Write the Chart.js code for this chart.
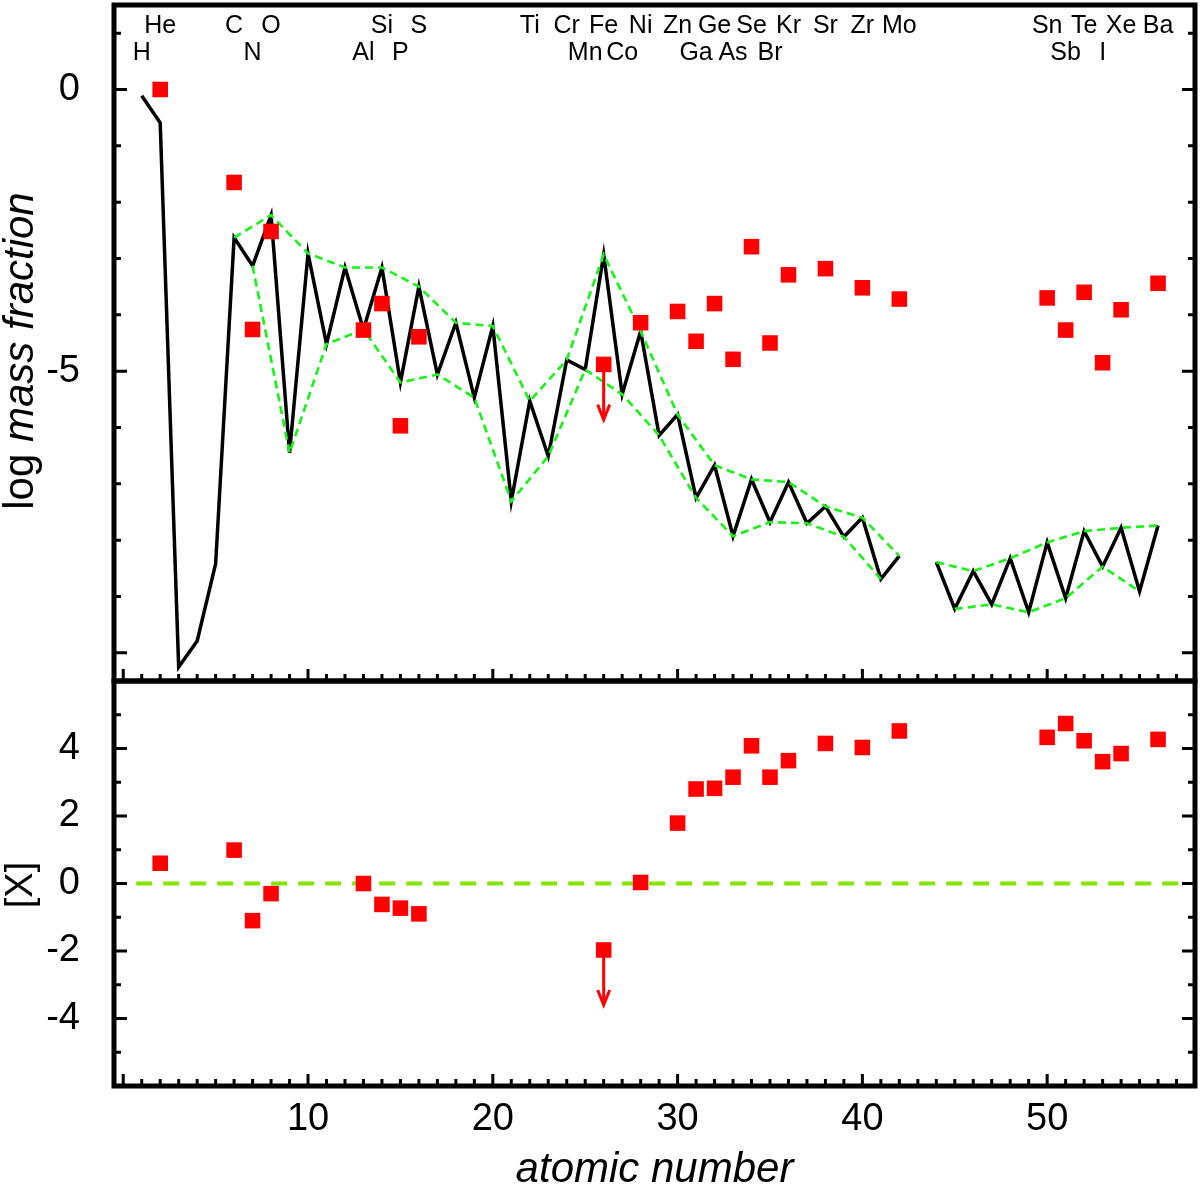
<!DOCTYPE html>
<html>
<head>
<meta charset="utf-8">
<title>Abundance pattern</title>
<script src="https://cdn.jsdelivr.net/npm/chart.js@4.4.1/dist/chart.umd.min.js"></script>
<style>
  html, body { margin: 0; padding: 0; background: #fff; }
  #wrap { position: relative; width: 1200px; height: 1190px; overflow: hidden; background: #fff; }
  canvas { position: absolute; left: 0; }
  #top { top: 0; }
  #bottom { top: 678px; }
</style>
</head>
<body>
<div id="wrap">
  <canvas id="top" width="1200" height="684"></canvas>
  <canvas id="bottom" width="1200" height="512"></canvas>
</div>
<script>
// model curve, log mass fraction (no value for Tc, Z=43)
const modelZ = [1, 2, 3, 4, 5, 6, 7, 8, 9, 10, 11, 12, 13, 14, 15, 16, 17, 18, 19, 20,
  21, 22, 23, 24, 25, 26, 27, 28, 29, 30, 31, 32, 33, 34, 35, 36, 37, 38, 39, 40,
  41, 42, 43, 44, 45, 46, 47, 48, 49, 50, 51, 52, 53, 54, 55, 56];
const modelLog = [-0.11, -0.59, -10.25, -9.79, -8.42, -2.63, -3.13, -2.23, -6.45, -2.91,
  -4.52, -3.16, -4.26, -3.16, -5.2, -3.5, -5.06, -4.14, -5.47, -4.2,
  -7.31, -5.53, -6.51, -4.8, -4.97, -2.93, -5.41, -4.29, -6.14, -5.77,
  -7.25, -6.67, -7.93, -6.92, -7.68, -6.97, -7.7, -7.4, -7.94, -7.6,
  -8.69, -8.28, null, -8.39, -9.22, -8.55, -9.14, -8.32, -9.28, -8.04,
  -9.03, -7.84, -8.47, -7.78, -8.91, -7.74];

// observed abundances
const obsZ = [2, 6, 7, 8, 13, 14, 15, 16, 26, 28, 30, 31, 32, 33, 34, 35, 36, 38, 40, 42,
  50, 51, 52, 53, 54, 56];
const obsLog = [0.0, -1.65, -4.26, -2.52, -4.27, -3.8, -5.97, -4.39, -4.88, -4.14,
  -3.94, -4.47, -3.8, -4.79, -2.79, -4.5, -3.29, -3.18, -3.52, -3.72,
  -3.7, -4.27, -3.6, -4.85, -3.91, -3.44];
const obsRel = [0.6, 0.99, -1.1, -0.3, 0.0, -0.62, -0.73, -0.9, -1.97, 0.03,
  1.79, 2.8, 2.82, 3.15, 4.08, 3.15, 3.64, 4.15, 4.03, 4.52,
  4.33, 4.74, 4.23, 3.61, 3.85, 4.27];

// upper limits: arrow tips
const limitZ = [26];
const limitLogTip = [-5.86];
const limitRelTip = [-3.6];

// element symbols along the top
const elemZ = [1, 2, 6, 7, 8, 13, 14, 15, 16, 22, 24, 25, 26, 27, 28, 30, 31, 32, 33, 34,
  35, 36, 38, 40, 42, 50, 51, 52, 53, 54, 56];
const elemSym = ['H', 'He', 'C', 'N', 'O', 'Al', 'Si', 'P', 'S', 'Ti', 'Cr', 'Mn', 'Fe', 'Co', 'Ni', 'Zn', 'Ga', 'Ge', 'As', 'Se',
  'Br', 'Kr', 'Sr', 'Zr', 'Mo', 'Sn', 'Sb', 'Te', 'I', 'Xe', 'Ba'];

// solar reference line in the lower panel
const zeroZ = [0.7, 57.6];
const zeroVal = [0, 0];

const FONT = "'Liberation Sans', Arial, Helvetica, sans-serif";
const GREEN = '#1ef01e';
const RED = '#ff0000';

Chart.defaults.font.family = FONT;
Chart.defaults.color = '#000';

function pts(xs, ys) {
    return xs.map((x, i) => ({ x, y: ys[i] }));
}

// every second model point (same parity), broken at the Tc gap
function envelope(parity, fromZ) {
    const out = [];
    modelZ.forEach((z, i) => {
        if (modelLog[i] === null) out.push({ x: z, y: null });
        else if (z >= fromZ && z % 2 === parity) out.push({ x: z, y: modelLog[i] });
    });
    return out;
}

// box round the plot area with inward ticks
const frameTicks = {
    id: 'frameTicks',
    afterDraw(chart, args, o) {
        const { ctx, chartArea: a, scales: { x, y } } = chart;
        ctx.save();
        ctx.strokeStyle = '#000';
        ctx.lineWidth = 3;
        ctx.beginPath();
        for (let v = o.yFrom; v <= o.yTo; v++) {
            const py = y.getPixelForValue(v);
            const len = v % o.yMajor === 0 ? 13 : 7;
            ctx.moveTo(a.left, py); ctx.lineTo(a.left + len, py);
            ctx.moveTo(a.right, py); ctx.lineTo(a.right - len, py);
        }
        for (let v = 0; v <= 57; v++) {
            const px = x.getPixelForValue(v);
            const len = v % 10 === 0 ? 12 : 7;
            ctx.moveTo(px, a.bottom); ctx.lineTo(px, a.bottom - len);
        }
        ctx.stroke();
        ctx.lineWidth = 5;
        ctx.strokeRect(a.left, a.top, a.right - a.left, a.bottom - a.top);
        ctx.restore();
    }
};

// rotated y title, parts may be italic
const sideTitle = {
    id: 'sideTitle',
    afterDraw(chart, args, o) {
        const ctx = chart.ctx;
        ctx.save();
        ctx.translate(o.x, o.y);
        ctx.rotate(-Math.PI / 2);
        ctx.fillStyle = '#000';
        ctx.textBaseline = 'alphabetic';
        ctx.textAlign = 'left';
        const fonts = o.parts.map(p => (p.italic ? 'italic ' : '') + o.size + 'px ' + FONT);
        let total = 0;
        const widths = o.parts.map((p, i) => {
            ctx.font = fonts[i];
            const w = ctx.measureText(p.text).width;
            total += w;
            return w;
        });
        let cx = -total / 2;
        o.parts.forEach((p, i) => {
            ctx.font = fonts[i];
            ctx.fillText(p.text, cx, 0);
            cx += widths[i];
        });
        ctx.restore();
    }
};

// downward arrows for upper limits
const limitArrows = {
    id: 'limitArrows',
    afterDatasetsDraw(chart, args, o) {
        const { ctx, scales: { x, y } } = chart;
        ctx.save();
        ctx.strokeStyle = RED;
        ctx.lineWidth = 3;
        o.z.forEach((z, i) => {
            const px = x.getPixelForValue(z);
            const y0 = y.getPixelForValue(o.from[i]);
            const y1 = y.getPixelForValue(o.to[i]);
            ctx.beginPath();
            ctx.moveTo(px, y0); ctx.lineTo(px, y1);
            ctx.moveTo(px - 6, y1 - 15); ctx.lineTo(px, y1); ctx.lineTo(px + 6, y1 - 15);
            ctx.stroke();
        });
        ctx.restore();
    }
};

// element symbols, even Z on the upper row
const elemLabels = {
    id: 'elemLabels',
    afterDraw(chart) {
        const { ctx, scales: { x } } = chart;
        ctx.save();
        ctx.font = '25px ' + FONT;
        ctx.fillStyle = '#000';
        ctx.textAlign = 'center';
        ctx.textBaseline = 'alphabetic';
        elemZ.forEach((z, i) => {
            ctx.fillText(elemSym[i], x.getPixelForValue(z), z % 2 === 0 ? 33 : 60);
        });
        ctx.restore();
    }
};

const limitFrom = (vals) => limitZ.map(z => vals[obsZ.indexOf(z)]);

function yAxis(min, max, step, show) {
    return {
        type: 'linear', min, max,
        grid: { display: false, drawTicks: false },
        border: { display: false },
        ticks: { stepSize: step, includeBounds: false, padding: 34, font: { size: 38 }, callback: v => show(v) ? String(v) : '' },
        afterFit: s => { s.width = 114; s.paddingTop = 0; s.paddingBottom = 0; }
    };
}

const squares = (data) => ({
    data, pointStyle: 'rect', pointRadius: 11, pointHoverRadius: 11,
    backgroundColor: RED, borderColor: RED, borderWidth: 0, order: 0
});

new Chart(document.getElementById('top'), {
    type: 'scatter',
    data: {
        datasets: [
            squares(pts(obsZ, obsLog)),
            { type: 'line', data: envelope(0, 6), borderColor: GREEN, borderWidth: 2.7, borderDash: [8, 5], pointRadius: 0, fill: false, order: 1 },
            { type: 'line', data: envelope(1, 7), borderColor: GREEN, borderWidth: 2.7, borderDash: [8, 5], pointRadius: 0, fill: false, order: 1 },
            { type: 'line', data: pts(modelZ, modelLog), borderColor: '#000', borderWidth: 3.5, pointRadius: 0, fill: false, order: 2 }
        ]
    },
    options: {
        responsive: false,
        animation: false,
        layout: { autoPadding: false, padding: { left: 0, right: 5, top: 5, bottom: 3 } },
        plugins: {
            legend: { display: false },
            tooltip: { enabled: false },
            frameTicks: { yFrom: -10, yTo: 1, yMajor: 5 },
            sideTitle: { x: 33, y: 351, size: 42, parts: [{ text: 'log ', italic: false }, { text: 'mass fraction', italic: true }] },
            limitArrows: { z: limitZ, from: limitFrom(obsLog), to: limitLogTip }
        },
        scales: {
            x: {
                type: 'linear', min: -0.5, max: 58, display: false,
                ticks: { display: false, includeBounds: false },
                afterFit: s => { s.paddingLeft = 0; s.paddingRight = 0; }
            },
            y: yAxis(-10.5, 1.5, 5, v => v !== -10)
        }
    },
    plugins: [frameTicks, elemLabels, sideTitle, limitArrows]
});

new Chart(document.getElementById('bottom'), {
    type: 'scatter',
    data: {
        datasets: [
            squares(pts(obsZ, obsRel)),
            { type: 'line', data: pts(zeroZ, zeroVal), borderColor: '#84e600', borderWidth: 4, borderDash: [16, 11], pointRadius: 0, fill: false, order: 1 }
        ]
    },
    options: {
        responsive: false,
        animation: false,
        layout: { autoPadding: false, padding: { left: 0, right: 5, top: 3, bottom: 0 } },
        plugins: {
            legend: { display: false },
            tooltip: { enabled: false },
            frameTicks: { yFrom: -5, yTo: 5, yMajor: 2 },
            sideTitle: { x: 32, y: 207, size: 38, parts: [{ text: '[X]', italic: false }] },
            limitArrows: { z: limitZ, from: limitFrom(obsRel), to: limitRelTip }
        },
        scales: {
            x: {
                type: 'linear', min: -0.5, max: 58,
                grid: { display: false, drawTicks: false },
                border: { display: false },
                ticks: { stepSize: 10, includeBounds: false, padding: 11, maxRotation: 0, autoSkip: false, font: { size: 38 }, callback: v => v > 0 ? String(v) : '' },
                title: { display: true, text: 'atomic number', font: { size: 42, style: 'italic', lineHeight: 0.93 }, padding: 0 },
                afterFit: s => { s.height = 104; s.paddingLeft = 0; s.paddingRight = 0; }
            },
            y: yAxis(-6, 6, 2, v => Math.abs(v) < 6)
        }
    },
    plugins: [frameTicks, sideTitle, limitArrows]
});
</script>
</body>
</html>
